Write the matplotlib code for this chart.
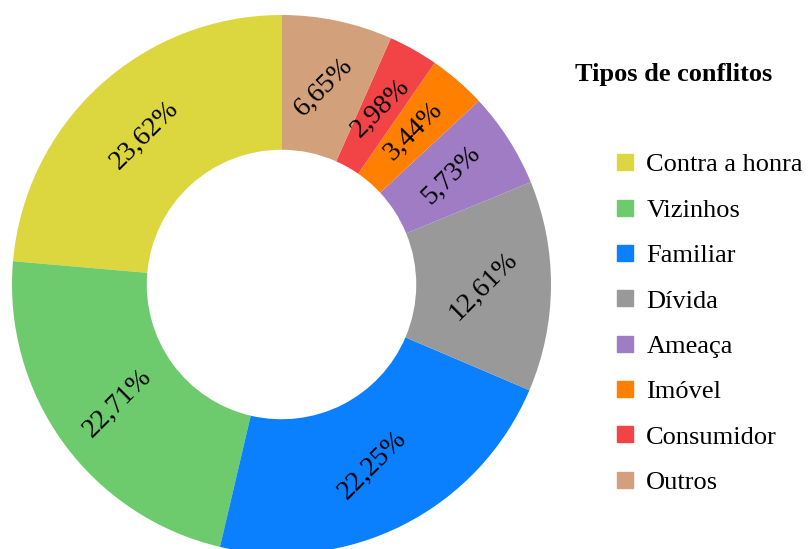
import matplotlib.pyplot as plt
from matplotlib.lines import Line2D

# Conflict types and shares (%)
categories = ['Contra a honra', 'Vizinhos', 'Familiar', 'Dívida',
              'Ameaça', 'Imóvel', 'Consumidor', 'Outros']
shares = [23.62, 22.71, 22.25, 12.61, 5.73, 3.44, 2.98, 6.65]
colors = ['#DCD73E', '#6DCB6D', '#0A80FF', '#999999',
          '#A07CC5', '#FF8000', '#F24447', '#D2A07A']

plt.rcParams['font.family'] = ['Liberation Serif', 'DejaVu Serif']

W, H = 808, 549
fig = plt.figure(figsize=(W / 100, H / 100), dpi=100)

# donut centre / radius in pixels
cx, cy, r = 281.5, 284.5, 269.5
ax = fig.add_axes([(cx - r) / W, (H - cy - r) / H, 2 * r / W, 2 * r / H])

wedges, texts, autotexts = ax.pie(
    shares, colors=colors, startangle=90, counterclock=True, radius=1,
    wedgeprops=dict(width=0.5, linewidth=0),
    autopct=lambda p: '', pctdistance=0.75)
ax.set_xlim(-1, 1)
ax.set_ylim(-1, 1)
ax.axis('off')

for at, val in zip(autotexts, shares):
    at.set_text(f'{val:.2f}%'.replace('.', ','))
    at.set_rotation(45)
    at.set_rotation_mode('anchor')
    at.set_ha('center')
    at.set_va('center')
    at.set_fontsize(20)
    at.set_color('black')

# legend
fig.text(575 / W, 1 - 75 / H, 'Tipos de conflitos', fontsize=19,
         fontweight='bold', ha='left', va='center')
handles = [Line2D([], [], marker='s', linestyle='none', markersize=11,
                  markerfacecolor=c, markeredgecolor=c) for c in colors]
fig.legend(handles, categories, loc='upper left',
           bbox_to_anchor=(612 / W, 1 - 153 / H), frameon=False,
           fontsize=19, handlelength=1.0, handletextpad=0.3,
           labelspacing=0.83, borderaxespad=0, borderpad=0)

fig.savefig('out.png', dpi=100)
